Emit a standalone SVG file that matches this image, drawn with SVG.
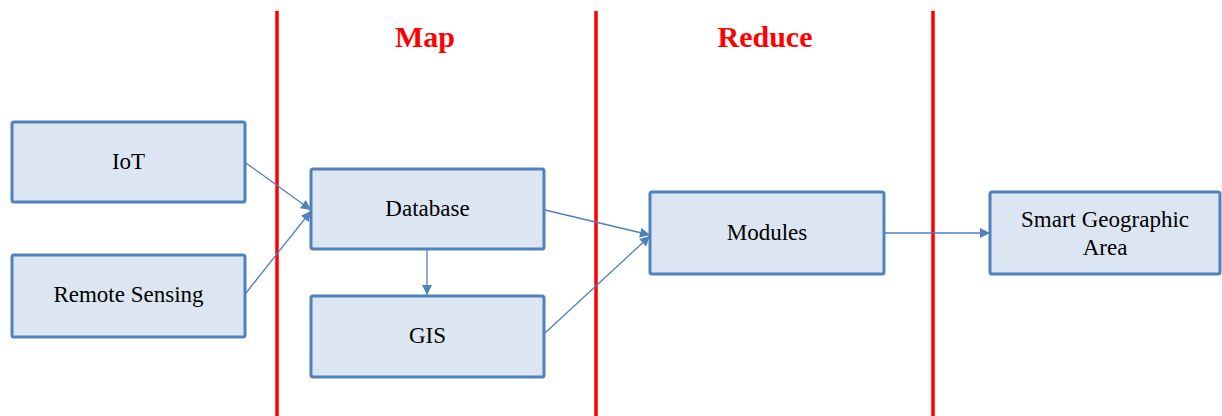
<svg xmlns="http://www.w3.org/2000/svg" width="1222" height="416" viewBox="0 0 1222 416">
<style>
.box{fill:#DCE6F2;stroke:#4F81BD;stroke-width:3}
.lbl{font-family:"Liberation Serif","Times New Roman",serif;font-size:23px;fill:#000;text-anchor:middle}
.hdr{font-family:"Liberation Serif","Times New Roman",serif;font-size:30px;font-weight:bold;fill:#FF0000;text-anchor:middle}
.sep{stroke:#FF0000;stroke-width:3.5}
.con{stroke:#4F81BD;stroke-width:1.3;fill:none;marker-end:url(#arr)}
</style>
<defs>
<marker id="arr" viewBox="0 0 10 10" refX="10" refY="5" markerWidth="11" markerHeight="10" markerUnits="userSpaceOnUse" orient="auto">
<path d="M0,0 L10,5 L0,10 z" fill="#4F81BD"/>
</marker>
</defs>
<rect width="1222" height="416" fill="#fff"/>
<g id="separators">
<line class="sep" x1="277" y1="11" x2="277" y2="416"/>
<line class="sep" x1="596" y1="11" x2="596" y2="416"/>
<line class="sep" x1="933" y1="11" x2="933" y2="416"/>
</g>
<g id="headers">
<text class="hdr" x="425" y="47">Map</text>
<text class="hdr" x="765" y="47">Reduce</text>
</g>
<g id="connectors">
<line class="con" x1="246" y1="163" x2="311" y2="210"/>
<line class="con" x1="246" y1="293" x2="311" y2="211"/>
<line class="con" x1="427" y1="249" x2="427" y2="295"/>
<line class="con" x1="545" y1="210" x2="650" y2="235"/>
<line class="con" x1="545" y1="333" x2="650" y2="236"/>
<line class="con" x1="884" y1="233" x2="990" y2="233"/>
</g>
<g id="iot">
<rect class="box" x="12" y="122" width="233" height="80" rx="2"/>
<text class="lbl" x="128.5" y="169">IoT</text>
</g>
<g id="remote-sensing">
<rect class="box" x="12" y="255" width="233" height="82" rx="2"/>
<text class="lbl" x="128.5" y="302">Remote Sensing</text>
</g>
<g id="database">
<rect class="box" x="311" y="169" width="233" height="80" rx="2"/>
<text class="lbl" x="427.5" y="216">Database</text>
</g>
<g id="gis">
<rect class="box" x="311" y="296" width="233" height="81" rx="2"/>
<text class="lbl" x="427.5" y="343">GIS</text>
</g>
<g id="modules">
<rect class="box" x="650" y="192" width="234" height="82" rx="2"/>
<text class="lbl" x="767" y="240">Modules</text>
</g>
<g id="smart-geographic-area">
<rect class="box" x="990" y="192" width="230" height="82" rx="2"/>
<text class="lbl" x="1105" y="227">Smart Geographic</text>
<text class="lbl" x="1105" y="255">Area</text>
</g>
</svg>
